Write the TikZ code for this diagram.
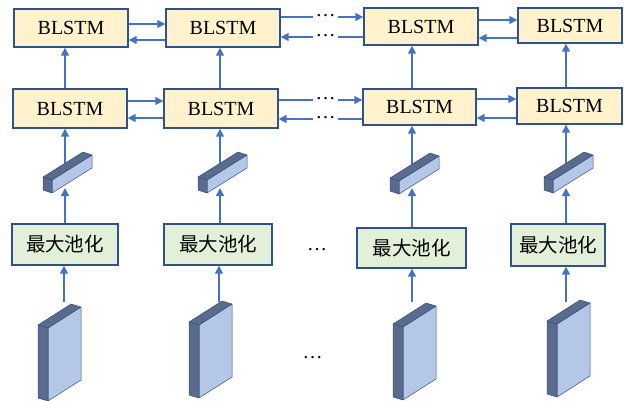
\documentclass[tikz,border=0pt]{standalone}
\usepackage{fontspec}
\setmainfont{Liberation Serif}
\newfontfamily\cjkfont{Noto Sans CJK SC}
\usetikzlibrary{arrows.meta}

\definecolor{edgeblue}{HTML}{2F528F}
\definecolor{arrowblue}{HTML}{4472C4}
\definecolor{cellfill}{HTML}{FFF2CC}
\definecolor{poolfill}{HTML}{E2F0D9}
\definecolor{faceblue}{HTML}{B4C7E7}
\definecolor{sideblue}{HTML}{5A6B8C}

% inclined feature vector (prism), anchored at the lower-left corner of its front face
\newcommand\featbar[1]{%
  \begin{scope}[shift={#1}]
    \filldraw[solidedge,fill=faceblue] (0,0) -- (40,-25) -- (40,-38) -- (0,-13) -- cycle;
    \filldraw[solidedge,fill=sideblue] (0,0) -- (0,-13) -- (-9,-16) -- (-9,-3) -- cycle;
    \filldraw[solidedge,fill=sideblue] (0,-13) -- (40,-38) -- (31,-41) -- (-9,-16) -- cycle;
  \end{scope}}

% feature map slab, anchored at the upper-left corner of its front face
\newcommand\featslab[1]{%
  \begin{scope}[shift={#1}]
    \filldraw[solidedge,fill=faceblue] (0,0) -- (33,-21) -- (33,52) -- (0,73) -- cycle;
    \filldraw[solidedge,fill=sideblue] (0,0) -- (0,73) -- (-10,70) -- (-10,-3) -- cycle;
    \filldraw[solidedge,fill=sideblue] (0,0) -- (33,-21) -- (23,-24) -- (-10,-3) -- cycle;
  \end{scope}}

\begin{document}
\begin{tikzpicture}[x=1pt,y=-1pt,
  cell/.style n args={2}{draw=edgeblue, line width=1.4pt, fill=cellfill,
    minimum width=#1, minimum height=#2, inner sep=0pt,
    font=\fontsize{20}{24}\selectfont},
  pool/.style n args={2}{draw=edgeblue, line width=1.4pt, fill=poolfill,
    minimum width=#1, minimum height=#2, inner sep=0pt,
    font=\cjkfont\fontsize{19.5}{24}\selectfont},
  link/.style={draw=arrowblue, line width=1.5pt},
  arr/.style={link, -{Triangle[length=8pt,width=8pt]}},
  dots/.style={inner sep=0pt, font=\fontsize{20}{24}\selectfont},
  solidedge/.style={draw=arrowblue!70!black, line width=0.5pt, line join=round}]

\useasboundingbox (0,0) rectangle (624,400);

% column axes
\coordinate (c1) at (65,0);
\coordinate (c2) at (220,0);
\coordinate (c3) at (412,0);
\coordinate (c4) at (566,0);

% upper BLSTM layer
\node[cell={114pt}{38pt}] (a1) at (71,28) {BLSTM};
\node[cell={114pt}{38pt}] (a2) at (223,28) {BLSTM};
\node[cell={114pt}{37pt}] (a3) at (421,26.5) {BLSTM};
\node[cell={104pt}{35pt}] (a4) at (570,25.5) {BLSTM};

% lower BLSTM layer
\node[cell={114pt}{39pt}] (b1) at (70,108.5) {BLSTM};
\node[cell={114pt}{39pt}] (b2) at (221,108.5) {BLSTM};
\node[cell={113pt}{36pt}] (b3) at (419.5,107) {BLSTM};
\node[cell={105pt}{36pt}] (b4) at (569.5,106) {BLSTM};

% max pooling
\node[pool={106pt}{41pt}] (m1) at (65,244.5) {最大池化};
\node[pool={108pt}{41pt}] (m2) at (218,244.5) {最大池化};
\node[pool={109pt}{40pt}] (m3) at (411.5,248) {最大池化};
\node[pool={94pt}{42pt}] (m4) at (558,245) {最大池化};

% horizontal links, upper layer
\coordinate (ua) at (0,24);  \coordinate (ub) at (0,40);
\draw[arr] (a1.east |- ua) -- (a2.west |- ua);
\draw[arr] (a2.west |- ub) -- (a1.east |- ub);
\coordinate (uc) at (313,17); \coordinate (ud) at (338,17);
\coordinate (ue) at (313,37); \coordinate (uf) at (338,37);
\draw[link] (a2.east |- uc) -- (uc);
\draw[arr] (ud) -- (a3.west |- ud);
\draw[link] (a3.west |- uf) -- (uf);
\draw[arr] (ue) -- (a2.east |- ue);
\node[dots] (du1) at (325.5,16) {…};
\node[dots] (du2) at (325.5,36) {…};
\coordinate (ug) at (0,20);  \coordinate (uh) at (0,38);
\draw[arr] (a3.east |- ug) -- (a4.west |- ug);
\draw[arr] (a4.west |- uh) -- (a3.east |- uh);

% horizontal links, lower layer
\coordinate (la) at (0,101); \coordinate (lb) at (0,118);
\draw[arr] (b1.east |- la) -- (b2.west |- la);
\draw[arr] (b2.west |- lb) -- (b1.east |- lb);
\coordinate (lc) at (313,100); \coordinate (ld) at (338,100);
\coordinate (le) at (313,119); \coordinate (lf) at (338,119);
\draw[link] (b2.east |- lc) -- (lc);
\draw[arr] (ld) -- (b3.west |- ld);
\draw[link] (b3.west |- lf) -- (lf);
\draw[arr] (le) -- (b2.east |- le);
\node[dots] (dl1) at (325.5,99) {…};
\node[dots] (dl2) at (325.5,118) {…};
\coordinate (lg) at (0,99);  \coordinate (lh) at (0,118);
\draw[arr] (b3.east |- lg) -- (b4.west |- lg);
\draw[arr] (b4.west |- lh) -- (b3.east |- lh);

% vertical links between the two layers
\foreach \i in {1,2,3,4}
  \draw[arr] (c\i |- b\i.north) -- (c\i |- a\i.south);

% feature vectors feeding the lower layer
\coordinate (bt) at (0,176);
\foreach \i in {1,2,3,4}
  \draw[arr] (c\i |- bt) -- (c\i |- b\i.south);
\featbar{(52,193)}
\featbar{(207,193)}
\featbar{(399,194)}
\featbar{(553,193)}
\coordinate (bb) at (0,188);
\foreach \i in {1,2,3,4}
  \draw[arr] (c\i |- m\i.north) -- (c\i |- bb);

% input feature maps
\featslab{(48,328)}
\featslab{(199,325)}
\featslab{(403,327)}
\featslab{(557,324)}
\coordinate (st) at (0,302);
\draw[arr] (64,302) coordinate (s1) -- (s1 |- m1.south);
\draw[arr] (219,302) coordinate (s2) -- (s2 |- m2.south);
\draw[arr] (412,302) coordinate (s3) -- (s3 |- m3.south);
\draw[arr] (566,302) coordinate (s4) -- (s4 |- m4.south);

% ellipses between columns
\node[dots] (dm) at (317,250) {…};
\node[dots] (dn) at (312.5,358) {…};

\end{tikzpicture}
\end{document}
